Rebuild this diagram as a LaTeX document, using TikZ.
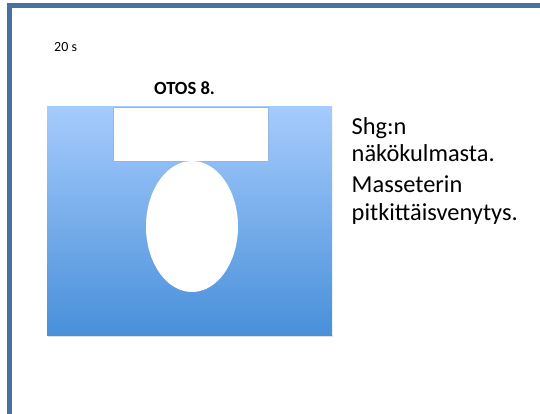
\documentclass[tikz,border=0pt]{standalone}
\usepackage{fontspec}
\setmainfont{Carlito}
\usetikzlibrary{shapes.geometric,backgrounds,calc}

\definecolor{framecol}{RGB}{74,112,160}
\definecolor{paneltop}{RGB}{166,203,253}
\definecolor{panelbot}{RGB}{72,144,217}
\definecolor{boxline}{RGB}{150,182,222}

\begin{document}
\begin{tikzpicture}[x=1pt,y=-1pt,
    label text/.style={inner sep=0pt, anchor=base west, align=left,
      font=\fontsize{24.4}{27.5}\selectfont}]
        % page
        \useasboundingbox (0,0) rectangle (540,414);
        \fill[white] (0,0) rectangle (540,414);
        \coordinate (fl) at (9.7,414);
        \coordinate (fc) at (9.7,5.5);
        \coordinate (fr) at (540,5.5);
        \draw[line width=4.6pt, framecol] (fl) -- (fc) -- (fr);

        % blue panel with cut-outs
        \fill[black!12] (47.5,335) rectangle (332.5,336.5);
        \node (panel) [rectangle, minimum width=285pt, minimum height=228pt,
          inner sep=0pt, top color=paneltop, bottom color=panelbot] at (189.5,221) {};
        \fill[black!25, opacity=0.5] (113.5,161) rectangle (268.5,162.5);
        \node (topbox) [rectangle, draw=boxline, line width=0.8pt, fill=white,
          minimum width=155pt, minimum height=54pt, inner sep=0pt] at (190.5,134) {};
        \node (hole) [ellipse, fill=white, minimum width=92pt, minimum height=131pt,
          inner sep=0pt] at (192,226.5) {};

        % Text (base anchor sits on the last line)
        \node (time) [inner sep=0pt, anchor=base west, font=\fontsize{14}{16}\selectfont]
          at (54,52) {20 s};
        \node (title) [inner sep=0pt, anchor=base, font=\fontsize{18.6}{20}\selectfont\bfseries]
          at (184.5,95) {OTOS 8.};
        \node (view) [label text] at (351.5,161.7) {Shg:n\\näkökulmasta.};
        \node (stretch) [label text] at (351.5,220) {Masseterin\\pitkittäisvenytys.};

    \end{tikzpicture}
\end{document}
